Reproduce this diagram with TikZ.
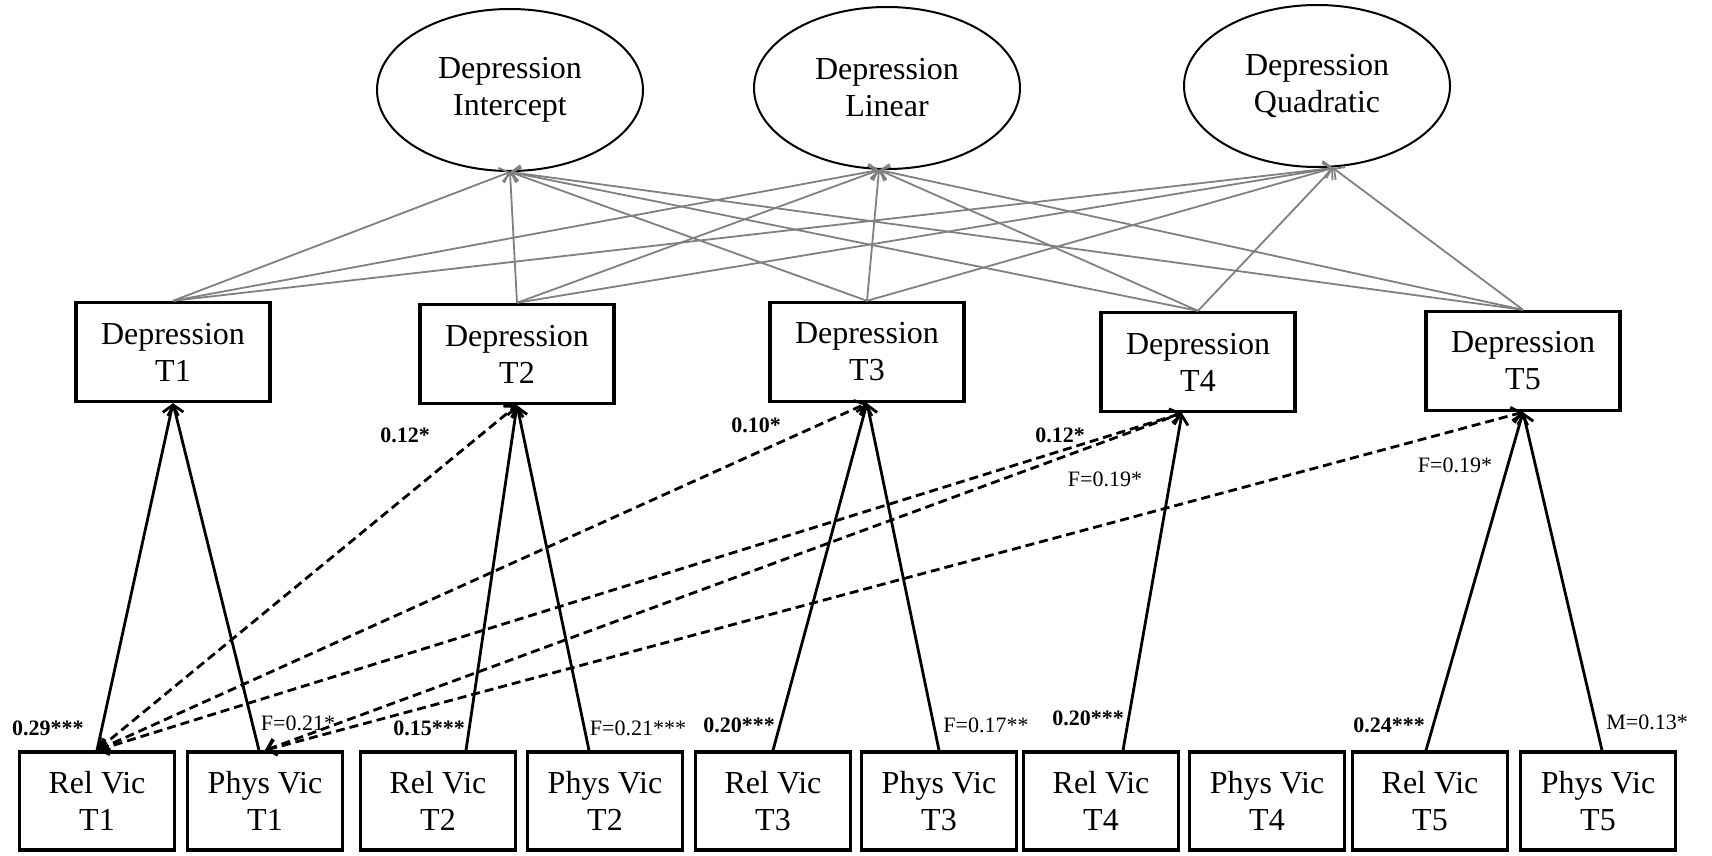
\documentclass[tikz,border=0pt]{standalone}
\usepackage{fontspec}
\setmainfont{Liberation Serif}
\usetikzlibrary{shapes.geometric,arrows.meta}

\begin{document}
\begin{tikzpicture}[x=0.5pt,y=-0.5pt]
        \tikzset{latent/.style={draw,ellipse,line width=1pt,minimum width=133pt,minimum height=81pt,
                align=center,font=\fontsize{16}{18.5}\selectfont},
            depbox/.style={draw,line width=1.7pt,minimum width=97pt,minimum height=49.5pt,
                align=center,font=\fontsize{16}{18.5}\selectfont},
            vicbox/.style={depbox,minimum width=77.5pt,minimum height=49pt},
            growth/.style={draw=gray,line width=0.9pt,-{Straight Barb[length=4pt,width=8pt]}},
            regpath/.style={line width=1.4pt,-{Straight Barb[length=4.5pt,width=8pt]}},
            crosslag/.style={regpath,{Straight Barb[length=4.5pt,width=8pt]}-{Straight Barb[length=4.5pt,width=8pt]},
                dash pattern=on 4.5pt off 2.5pt},
            est/.style={font=\fontsize{11}{13}\selectfont\bfseries,inner sep=1pt},
            sexdiff/.style={font=\fontsize{11}{13}\selectfont,inner sep=1pt}}
        \useasboundingbox (0,0) rectangle (1712,856);

        % growth factors
        \node[latent] (int) at (510,90) {Depression\\Intercept};
        \node[latent] (lin) at (887,88) {Depression\\Linear};
        \node[latent] (quad) at (1317,86) {Depression\\Quadratic};
        \coordinate (intin) at (int.south);
        \coordinate (linin) at ([xshift=-4pt]lin.south);
        \coordinate (quadin) at ([xshift=8pt]quad.south);

        % depression waves
        \foreach \t/\x/\y in {1/173/352,2/517/354,3/867/352,4/1198/362,5/1523/361}
            \node[depbox] (dep\t) at (\x,\y) {Depression\\T\t};

        % victimization waves
        \foreach \t/\xr/\xp in {1/97/265,2/438/605,3/773/939,4/1101/1267,5/1430/1598}{
            \node[vicbox] (rv\t) at (\xr,801) {Rel Vic\\T\t};
            \node[vicbox] (pv\t) at (\xp,801) {Phys Vic\\T\t};
        }

        \foreach \t in {1,...,5}
            \foreach \g in {intin,linin,quadin}
                \draw[growth] (dep\t.north) -- (\g);

        % cross-lagged paths
        \draw[crosslag] (rv1.north) -- (dep2.south);
        \draw[crosslag] (rv1.north) -- (dep3.south);
        \draw[crosslag] (rv1.north) -- ([xshift=-8pt]dep4.south);
        \draw[crosslag] (pv1.north) -- ([xshift=-8pt]dep4.south);
        \draw[crosslag] (pv1.north) -- (dep5.south);

        % concurrent paths
        \draw[regpath] (rv1.north) -- (dep1.south);
        \draw[regpath] ([xshift=-3pt]pv1.north) -- (dep1.south);
        \draw[regpath] ([xshift=14pt]rv2.north) -- (dep2.south);
        \draw[regpath] ([xshift=-8pt]pv2.north) -- (dep2.south);
        \draw[regpath] (rv3.north) -- (dep3.south);
        \draw[regpath] (pv3.north) -- (dep3.south);
        \draw[regpath] ([xshift=11pt]rv4.north) -- ([xshift=-8pt]dep4.south);
        \draw[regpath] ([xshift=-2pt]rv5.north) -- (dep5.south);
        \draw[regpath] ([xshift=2pt]pv5.north) -- (dep5.south);

        % estimates
        \node[est] (e1) at (48,728) {0.29***};
        \node[sexdiff] (f1) at (298,723) {F=0.21*};
        \node[est] (e2) at (429,728) {0.15***};
        \node[sexdiff] (f2) at (638,728) {F=0.21***};
        \node[est] (e3) at (739,725) {0.20***};
        \node[sexdiff] (f3) at (986,725) {F=0.17**};
        \node[est] (e4) at (1088,718) {0.20***};
        \node[est] (e5) at (1389,725) {0.24***};
        \node[sexdiff] (m5) at (1647,722) {M=0.13*};
        \node[est] (c2) at (405,435) {0.12*};
        \node[est] (c3) at (756,425) {0.10*};
        \node[est] (c4) at (1060,435) {0.12*};
        \node[sexdiff] (g4) at (1105,479) {F=0.19*};
        \node[sexdiff] (g5) at (1455,465) {F=0.19*};
    \end{tikzpicture}
\end{document}
